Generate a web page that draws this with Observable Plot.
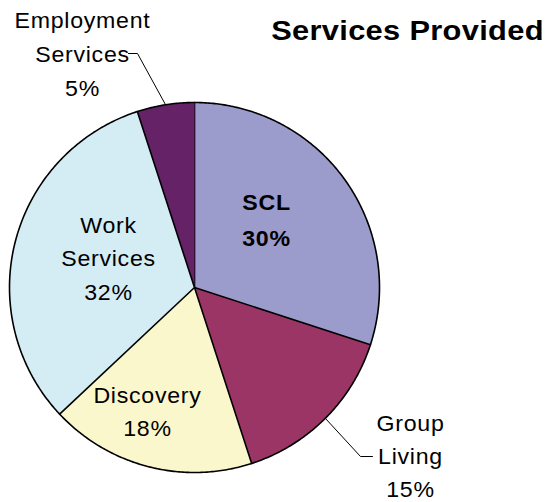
<!DOCTYPE html>
<html><head><meta charset="utf-8">
<script src="https://cdn.jsdelivr.net/npm/d3@7"></script>
<script src="https://cdn.jsdelivr.net/npm/@observablehq/plot@0.6"></script>
<style>body{margin:0;background:#fff}</style>
</head><body><div id="chart"></div>
<script>
// ---- data ----
const categories = ["SCL", "Group Living", "Discovery", "Work Services", "Employment Services"];
const values = [30, 15, 18, 32, 5];
const colors = ["#9b9bcc", "#9a3566", "#fbf7cc", "#d4ecf4", "#662266"];
const title = "Services Provided";

// ---- layout ----
const W = 548, H = 502, cx = 194, cy = 287, R = 185;
const labelLayout = {
  "SCL": {x: 266, y: 209, gap: 36, bold: true},
  "Group Living": {x: 410, y: 430, gap: 33},
  "Discovery": {x: 147, y: 402, gap: 33},
  "Work Services": {x: 108, y: 232, gap: 33.5},
  "Employment Services": {x: 82, y: 27, gap: 34}
};
const leaderLayout = [
  {cat: "Employment Services", elbow: [137, 53], end: [128, 53]},
  {cat: "Group Living", elbow: [360, 456], end: [372, 456]}
];

const arcs = d3.pie().sort(null).value(d => d)(values);
const polar = (a, r) => [cx + r * Math.sin(a), cy - r * Math.cos(a)];

const slicePts = [];
arcs.forEach((a, i) => {
  const cat = categories[i];
  slicePts.push({cat, p: [cx, cy]});
  const n = Math.max(2, Math.ceil((a.endAngle - a.startAngle) / 0.01));
  for (let k = 0; k <= n; k++) {
    const t = a.startAngle + (a.endAngle - a.startAngle) * k / n;
    slicePts.push({cat, p: polar(t, R)});
  }
});

const labelRows = [];
categories.forEach((c, i) => {
  const L = labelLayout[c];
  const lines = [...c.split(" "), values[i] + "%"];
  lines.forEach((txt, k) => labelRows.push({txt, x: L.x, y: L.y + k * L.gap, bold: !!L.bold}));
});

const leaderPts = [];
leaderLayout.forEach(l => {
  const i = categories.indexOf(l.cat);
  const mid = (arcs[i].startAngle + arcs[i].endAngle) / 2;
  leaderPts.push({cat: l.cat, p: polar(mid, R)});
  leaderPts.push({cat: l.cat, p: l.elbow});
  leaderPts.push({cat: l.cat, p: l.end});
});

const plot = Plot.plot({
  width: W, height: H, margin: 0,
  x: {domain: [0, W], axis: null},
  y: {domain: [0, H], range: [0, H], axis: null},
  color: {domain: categories, range: colors},
  style: {fontFamily: "'Liberation Sans', Arial, sans-serif", background: "#fff"},
  marks: [
    Plot.line(slicePts, {x: d => d.p[0], y: d => d.p[1], z: "cat", fill: "cat", stroke: "black", strokeWidth: 1.6, strokeLinejoin: "round"}),
    Plot.line(leaderPts, {x: d => d.p[0], y: d => d.p[1], z: "cat", stroke: "black", strokeWidth: 1}),
    Plot.text(labelRows.filter(d => !d.bold), {x: "x", y: "y", text: "txt", fontSize: 22.5, fill: "black", lineAnchor: "bottom", className: "lbl"}),
    Plot.text(labelRows.filter(d => d.bold), {x: "x", y: "y", text: "txt", fontSize: 22.5, fontWeight: "bold", fill: "black", lineAnchor: "bottom", className: "lbl"}),
    Plot.text([title], {x: () => 407, y: () => 39, text: d => d, fontSize: 28, fontWeight: "bold", fill: "black", lineAnchor: "bottom", className: "ttl"})
  ]
});

function stretch(sel, s, ls) {
  plot.querySelectorAll(sel + " text").forEach(t => {
    const tr = t.getAttribute("transform") || "";
    const x = +t.getAttribute("x") || 0, y = +t.getAttribute("y") || 0;
    t.removeAttribute("x"); t.removeAttribute("y");
    t.setAttribute("transform", `${tr} translate(${x},${y}) scale(${s},1)`);
    t.setAttribute("letter-spacing", ls);
  });
}
stretch(".lbl", 1.03, "0.7px");
stretch(".ttl", 1.1, "0.3px");
document.getElementById("chart").appendChild(plot);
</script>
</body></html>
